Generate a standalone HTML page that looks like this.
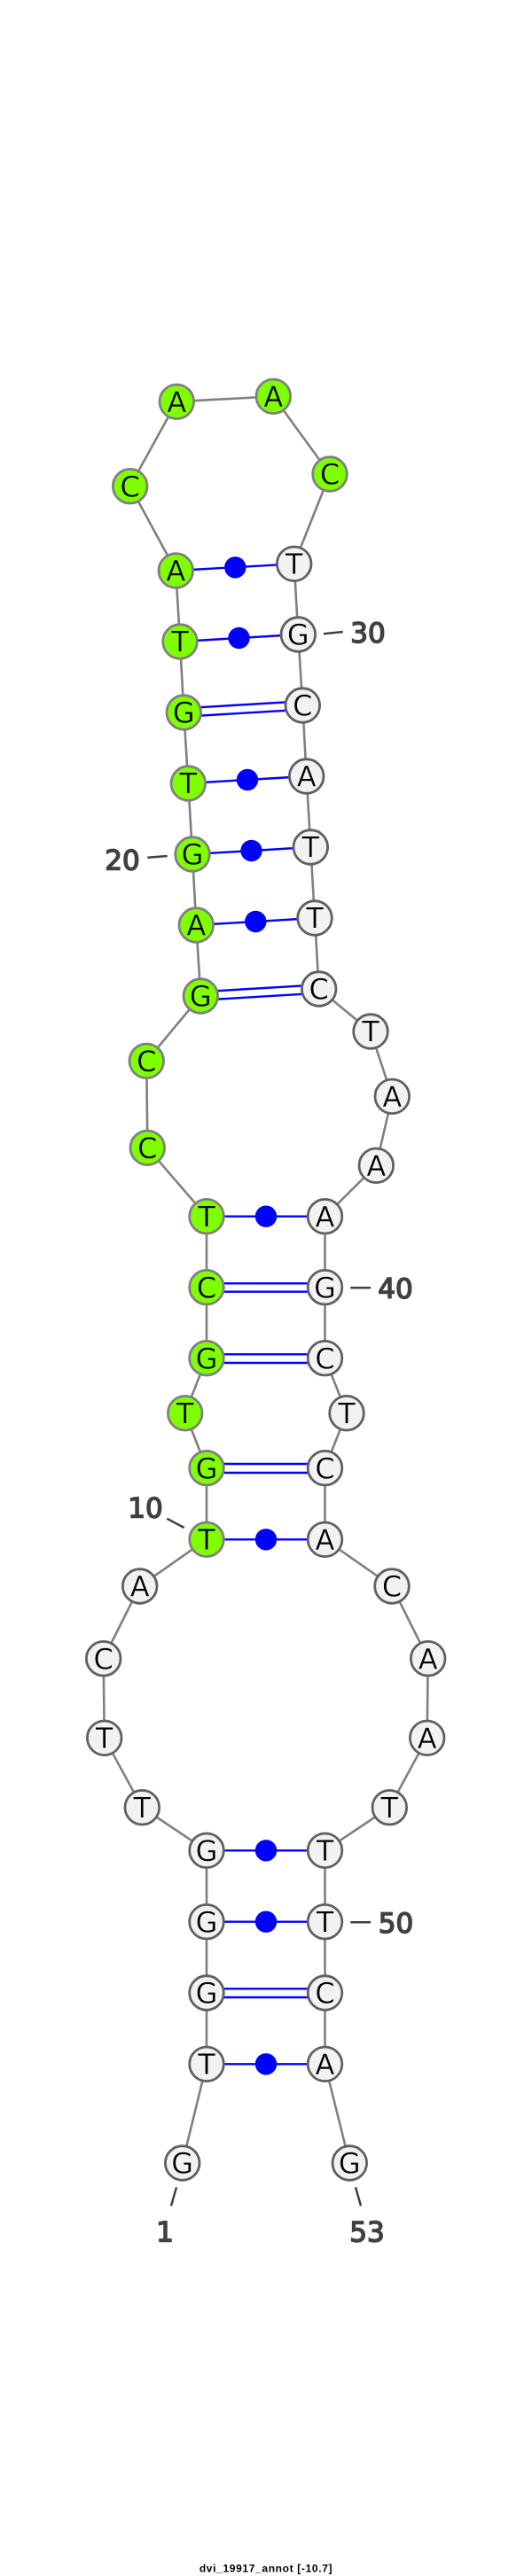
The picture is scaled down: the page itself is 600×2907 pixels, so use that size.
<!DOCTYPE html>
<html><head><meta charset="utf-8"><style>
html,body{margin:0;padding:0;background:#fff;width:600px;height:2907px;overflow:hidden}
svg{display:block}
.p line{stroke:#0000ff;stroke-width:2.4}
.p circle{fill:#0000ff}
.g circle{fill:#7fff00;stroke:#808080;stroke-width:2.8}
.w circle{fill:#f2f2f2;stroke:#606060;stroke-width:2.8}
.t text{font-family:"DejaVu Sans",sans-serif;font-size:32px;text-anchor:middle;fill:#000;stroke-width:.4}
.tw text{stroke:#f2f2f2}
.tg text{stroke:#7fff00}
.l line{stroke:#404040;stroke-width:2.5}
.l text{font-family:"DejaVu Sans",sans-serif;font-size:31px;text-anchor:middle;fill:#404040;stroke:#404040;stroke-width:1.5}
</style></head><body>
<svg width="600" height="2907" viewBox="0 0 600 2907" xmlns="http://www.w3.org/2000/svg">
<rect width="600" height="2907" fill="#fff"/>
<polyline points="205.7,2441 233,2329.3 233,2249 233,2168.7 233,2088.3 160.3,2039.7 117.7,1961.3 116.7,1871.7 157.7,1790 233,1737.3 233,1656.7 208.7,1594.7 233,1532.7 233,1452.7 233,1372.7 166.3,1295.3 165.3,1197.3 226.3,1124 221.3,1044 217,964 212.3,884 207.3,804 203,724 198.3,644 146.7,548.7 199.3,453.3 308.3,447.3 372,535 331.7,636.3 336.3,716 341.3,796 345.7,876 350.3,956 355,1036 359.7,1116 418,1164 442.3,1237.3 424.3,1315.3 366.5,1372.7 366.5,1452.7 366.5,1532.7 391,1594.7 366.5,1656.7 366.5,1737.3 442,1790 482.7,1871.7 481.7,1961.3 439.3,2039.7 366.5,2088.3 366.5,2168.7 366.5,2249 366.5,2329.3 394.3,2441" fill="none" stroke="#808080" stroke-width="2.6"/>
<g class="p">
<line x1="233" y1="2329.3" x2="366.5" y2="2329.3"/><circle cx="300" cy="2329.3" r="12.2"/>
<line x1="233" y1="2244.3" x2="366.5" y2="2244.3"/><line x1="233" y1="2254" x2="366.5" y2="2254"/>
<line x1="233" y1="2168.7" x2="366.5" y2="2168.7"/><circle cx="300" cy="2168.7" r="12.2"/>
<line x1="233" y1="2088.3" x2="366.5" y2="2088.3"/><circle cx="300" cy="2088.3" r="12.2"/>
<line x1="233" y1="1737.3" x2="366.5" y2="1737.3"/><circle cx="300" cy="1737.3" r="12.2"/>
<line x1="233" y1="1652" x2="366.5" y2="1652"/><line x1="233" y1="1662" x2="366.5" y2="1662"/>
<line x1="233" y1="1528.3" x2="366.5" y2="1528.3"/><line x1="233" y1="1538" x2="366.5" y2="1538"/>
<line x1="233" y1="1448.3" x2="366.5" y2="1448.3"/><line x1="233" y1="1457.7" x2="366.5" y2="1457.7"/>
<line x1="233" y1="1372.7" x2="366.5" y2="1372.7"/><circle cx="300" cy="1372.7" r="12.2"/>
<line x1="226" y1="1119.3" x2="359.4" y2="1111.3"/><line x1="226.6" y1="1128.7" x2="360" y2="1120.7"/>
<line x1="221.3" y1="1044" x2="355" y2="1036"/><circle cx="288.3" cy="1040" r="12.2"/>
<line x1="217" y1="964" x2="350.3" y2="956"/><circle cx="283.5" cy="960" r="12.2"/>
<line x1="212.3" y1="884" x2="345.7" y2="876"/><circle cx="279" cy="880" r="12.2"/>
<line x1="207" y1="799.3" x2="341" y2="791.3"/><line x1="207.6" y1="808.7" x2="341.6" y2="800.7"/>
<line x1="203" y1="724" x2="336.3" y2="716"/><circle cx="269.5" cy="720" r="12.2"/>
<line x1="198.3" y1="644" x2="331.7" y2="636.3"/><circle cx="265.3" cy="640.3" r="12.2"/>
</g>
<g class="g">
<circle cx="233" cy="1737.3" r="19.3"/><circle cx="233" cy="1656.7" r="19.3"/><circle cx="208.7" cy="1594.7" r="19.3"/><circle cx="233" cy="1532.7" r="19.3"/><circle cx="233" cy="1452.7" r="19.3"/><circle cx="233" cy="1372.7" r="19.3"/><circle cx="166.3" cy="1295.3" r="19.3"/><circle cx="165.3" cy="1197.3" r="19.3"/><circle cx="226.3" cy="1124" r="19.3"/><circle cx="221.3" cy="1044" r="19.3"/><circle cx="217" cy="964" r="19.3"/><circle cx="212.3" cy="884" r="19.3"/><circle cx="207.3" cy="804" r="19.3"/><circle cx="203" cy="724" r="19.3"/><circle cx="198.3" cy="644" r="19.3"/><circle cx="146.7" cy="548.7" r="19.3"/><circle cx="199.3" cy="453.3" r="19.3"/><circle cx="308.3" cy="447.3" r="19.3"/><circle cx="372" cy="535" r="19.3"/>
</g>
<g class="w">
<circle cx="205.7" cy="2441" r="19.3"/><circle cx="233" cy="2329.3" r="19.3"/><circle cx="233" cy="2249" r="19.3"/><circle cx="233" cy="2168.7" r="19.3"/><circle cx="233" cy="2088.3" r="19.3"/><circle cx="160.3" cy="2039.7" r="19.3"/><circle cx="117.7" cy="1961.3" r="19.3"/><circle cx="116.7" cy="1871.7" r="19.3"/><circle cx="157.7" cy="1790" r="19.3"/>
<circle cx="331.7" cy="636.3" r="19.3"/><circle cx="336.3" cy="716" r="19.3"/><circle cx="341.3" cy="796" r="19.3"/><circle cx="345.7" cy="876" r="19.3"/><circle cx="350.3" cy="956" r="19.3"/><circle cx="355" cy="1036" r="19.3"/><circle cx="359.7" cy="1116" r="19.3"/><circle cx="418" cy="1164" r="19.3"/><circle cx="442.3" cy="1237.3" r="19.3"/><circle cx="424.3" cy="1315.3" r="19.3"/><circle cx="366.5" cy="1372.7" r="19.3"/><circle cx="366.5" cy="1452.7" r="19.3"/><circle cx="366.5" cy="1532.7" r="19.3"/><circle cx="391" cy="1594.7" r="19.3"/><circle cx="366.5" cy="1656.7" r="19.3"/><circle cx="366.5" cy="1737.3" r="19.3"/><circle cx="442" cy="1790" r="19.3"/><circle cx="482.7" cy="1871.7" r="19.3"/><circle cx="481.7" cy="1961.3" r="19.3"/><circle cx="439.3" cy="2039.7" r="19.3"/><circle cx="366.5" cy="2088.3" r="19.3"/><circle cx="366.5" cy="2168.7" r="19.3"/><circle cx="366.5" cy="2249" r="19.3"/><circle cx="366.5" cy="2329.3" r="19.3"/><circle cx="394.3" cy="2441" r="19.3"/>
</g>
<g class="t tw">
<text x="205.7" y="2452.7">G</text><text x="233" y="2341">T</text><text x="233" y="2260.7">G</text><text x="233" y="2180.4">G</text><text x="233" y="2100">G</text><text x="160.3" y="2051.4">T</text><text x="117.7" y="1973">T</text><text x="116.7" y="1883.4">C</text><text x="157.7" y="1801.7">A</text>
<text x="331.7" y="648">T</text><text x="336.3" y="727.7">G</text><text x="341.3" y="807.7">C</text><text x="345.7" y="887.7">A</text><text x="350.3" y="967.7">T</text><text x="355" y="1047.7">T</text><text x="359.7" y="1127.7">C</text><text x="418" y="1175.7">T</text><text x="442.3" y="1249">A</text><text x="424.3" y="1327">A</text><text x="366.5" y="1384.4">A</text><text x="366.5" y="1464.4">G</text><text x="366.5" y="1544.4">C</text><text x="391" y="1606.4">T</text><text x="366.5" y="1668.4">C</text><text x="366.5" y="1749">A</text><text x="442" y="1801.7">C</text><text x="482.7" y="1883.4">A</text><text x="481.7" y="1973">A</text><text x="439.3" y="2051.4">T</text><text x="366.5" y="2100">T</text><text x="366.5" y="2180.4">T</text><text x="366.5" y="2260.7">C</text><text x="366.5" y="2341">A</text><text x="394.3" y="2452.7">G</text>
</g>
<g class="t tg">
<text x="233" y="1749">T</text><text x="233" y="1668.4">G</text><text x="208.7" y="1606.4">T</text><text x="233" y="1544.4">G</text><text x="233" y="1464.4">C</text><text x="233" y="1384.4">T</text><text x="166.3" y="1307">C</text><text x="165.3" y="1209">C</text><text x="226.3" y="1135.7">G</text><text x="221.3" y="1055.7">A</text><text x="217" y="975.7">G</text><text x="212.3" y="895.7">T</text><text x="207.3" y="815.7">G</text><text x="203" y="735.7">T</text><text x="198.3" y="655.7">A</text><text x="146.7" y="560.4">C</text><text x="199.3" y="465">A</text><text x="308.3" y="459">A</text><text x="372" y="546.7">C</text>
</g>
<g class="l">
<line x1="365" y1="715.3" x2="386.7" y2="713"/><text x="415" y="724.8">30</text>
<line x1="166.3" y1="967.7" x2="188.7" y2="966"/><text x="138" y="981.3">20</text>
<line x1="395.3" y1="1453.3" x2="418" y2="1453.3"/><text x="446" y="1465">40</text>
<line x1="188.3" y1="1713.7" x2="207.7" y2="1724"/><text x="164" y="1712.3">10</text>
<line x1="395.3" y1="2169.3" x2="418" y2="2169.3"/><text x="446.5" y="2180.8">50</text>
<line x1="199" y1="2468.3" x2="193" y2="2489.3"/><text x="186" y="2529.5">1</text>
<line x1="401" y1="2468.3" x2="407" y2="2489.3"/><text x="414" y="2529.5">53</text>
</g>
<text x="300" y="2902.5" text-anchor="middle" font-family="'Liberation Sans',sans-serif" font-weight="bold" font-size="12" letter-spacing="0.65" fill="#000">dvi_19917_annot [-10.7]</text>
</svg>
</body></html>
